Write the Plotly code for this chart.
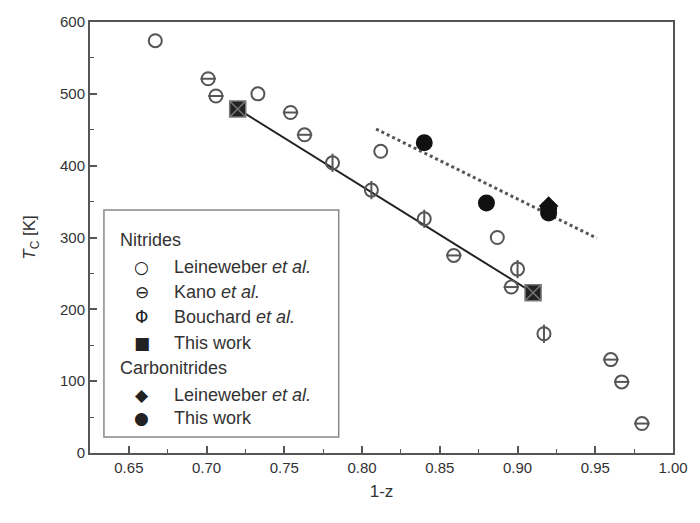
import plotly.graph_objects as go

# ---- data ----
nit_lei_x = [0.667, 0.733, 0.812, 0.887]
nit_lei_y = [574, 500, 420, 300]

kano_x = [0.701, 0.706, 0.754, 0.763, 0.859, 0.896, 0.960, 0.967, 0.980]
kano_y = [521, 497, 474, 443, 275, 231, 130, 99, 41]

bouch_x = [0.781, 0.806, 0.840, 0.900, 0.917]
bouch_y = [404, 366, 326, 256, 166]

tw_nit_x = [0.720, 0.910]
tw_nit_y = [479, 223]

cn_lei_x = [0.920]
cn_lei_y = [344]

cn_tw_x = [0.840, 0.880, 0.920, 0.920]
cn_tw_y = [432, 348, 340, 334]

fit_cn_x = [0.809, 0.951]
fit_cn_y = [451, 299]

x_ticks = [0.65, 0.70, 0.75, 0.80, 0.85, 0.90, 0.95, 1.00]
y_ticks = [0, 100, 200, 300, 400, 500, 600]

FONT = "Liberation Sans, Arial, sans-serif"
GREY = "#555555"
TXT = "#333333"

fig = go.Figure()

# fit lines
fig.add_trace(go.Scatter(x=tw_nit_x, y=tw_nit_y, mode="lines",
                         line=dict(color="#222222", width=2), showlegend=False))
fig.add_trace(go.Scatter(x=fit_cn_x, y=fit_cn_y, mode="lines",
                         line=dict(color="#555555", width=3, dash="dot"), showlegend=False))

# Nitrides - Leineweber (open circles)
fig.add_trace(go.Scatter(x=nit_lei_x, y=nit_lei_y, mode="markers",
                         marker=dict(symbol="circle-open", size=13, color=GREY,
                                     line=dict(width=2, color=GREY)), showlegend=False))
# Kano (circle with horizontal bar)
fig.add_trace(go.Scatter(x=kano_x, y=kano_y, mode="markers",
                         marker=dict(symbol="circle-open", size=13, color=GREY,
                                     line=dict(width=2, color=GREY)), showlegend=False))
fig.add_trace(go.Scatter(x=kano_x, y=kano_y, mode="markers",
                         marker=dict(symbol="line-ew-open", size=11, color=GREY,
                                     line=dict(width=2, color=GREY)), showlegend=False))
# Bouchard (circle with vertical bar)
fig.add_trace(go.Scatter(x=bouch_x, y=bouch_y, mode="markers",
                         marker=dict(symbol="circle-open", size=13, color=GREY,
                                     line=dict(width=2, color=GREY)), showlegend=False))
fig.add_trace(go.Scatter(x=bouch_x, y=bouch_y, mode="markers",
                         marker=dict(symbol="line-ns-open", size=13, color=GREY,
                                     line=dict(width=2, color=GREY)), showlegend=False))
# This work nitrides (squares)
fig.add_trace(go.Scatter(x=tw_nit_x, y=tw_nit_y, mode="markers",
                         marker=dict(symbol="square-x", size=16, color="#222222",
                                     line=dict(width=1.5, color="#777777")), showlegend=False))
# Carbonitrides - Leineweber (diamond)
fig.add_trace(go.Scatter(x=cn_lei_x, y=cn_lei_y, mode="markers",
                         marker=dict(symbol="diamond", size=15, color="#111111"), showlegend=False))
# Carbonitrides - This work (filled circles)
fig.add_trace(go.Scatter(x=cn_tw_x, y=cn_tw_y, mode="markers",
                         marker=dict(symbol="circle", size=17, color="#111111"), showlegend=False))

# ---- custom legend ----
fig.add_shape(type="rect", xref="paper", yref="paper",
              x0=0.0239, x1=0.4266, y0=0.037, y1=0.5638,
              line=dict(color="#888888", width=1.5), fillcolor="white", layer="below")

legend_rows = [
    ("title", "Nitrides", None),
    ("item", "Leineweber <i>et al.</i>", "○"),
    ("item", "Kano <i>et al.</i>", "⊖"),
    ("item", "Bouchard <i>et al.</i>", "Φ"),
    ("item", "This work", "■"),
    ("title", "Carbonitrides", None),
    ("item", "Leineweber <i>et al.</i>", "◆"),
    ("item", "This work", "●"),
]
row_y = [0.4942, 0.4316, 0.3735, 0.3155, 0.2552, 0.1972, 0.1346, 0.0812]
for (kind, label, sym), yy in zip(legend_rows, row_y):
    if kind == "title":
        fig.add_annotation(x=0.0478, y=yy, xref="paper", yref="paper", text=label,
                           showarrow=False, xanchor="left", yanchor="middle",
                           font=dict(family=FONT, size=18, color=TXT))
    else:
        fig.add_annotation(x=0.0887, y=yy, xref="paper", yref="paper", text=sym,
                           showarrow=False, xanchor="center", yanchor="middle",
                           font=dict(family="DejaVu Sans", size=17, color="#222222"))
        fig.add_annotation(x=0.1399, y=yy, xref="paper", yref="paper", text=label,
                           showarrow=False, xanchor="left", yanchor="middle",
                           font=dict(family=FONT, size=18, color=TXT))

axis_common = dict(showline=True, linecolor=GREY, linewidth=2, mirror=True,
                   ticks="inside", ticklen=7, tickwidth=1.5, tickcolor=GREY,
                   showgrid=False, zeroline=False,
                   tickfont=dict(family=FONT, size=15, color=TXT))

fig.update_xaxes(range=[0.625, 1.0], tickvals=x_ticks, tickformat=".2f",
                 minor=dict(dtick=0.025, tick0=0.625, ticks="inside", ticklen=4,
                            tickcolor=GREY, tickwidth=1),
                 title=dict(text="1-z", font=dict(family=FONT, size=17, color=TXT), standoff=10),
                 **axis_common)
fig.update_yaxes(range=[0, 600], tickvals=y_ticks,
                 minor=dict(dtick=50, tick0=0, ticks="inside", ticklen=4,
                            tickcolor=GREY, tickwidth=1),
                 title=dict(text="<i>T</i><sub>C</sub> [K]", font=dict(family=FONT, size=17, color=TXT),
                            standoff=20),
                 **axis_common)

fig.update_layout(width=700, height=523, margin=dict(l=90, r=24, t=22, b=70),
                  plot_bgcolor="white", paper_bgcolor="white", showlegend=False)

fig.write_html("out.html")
